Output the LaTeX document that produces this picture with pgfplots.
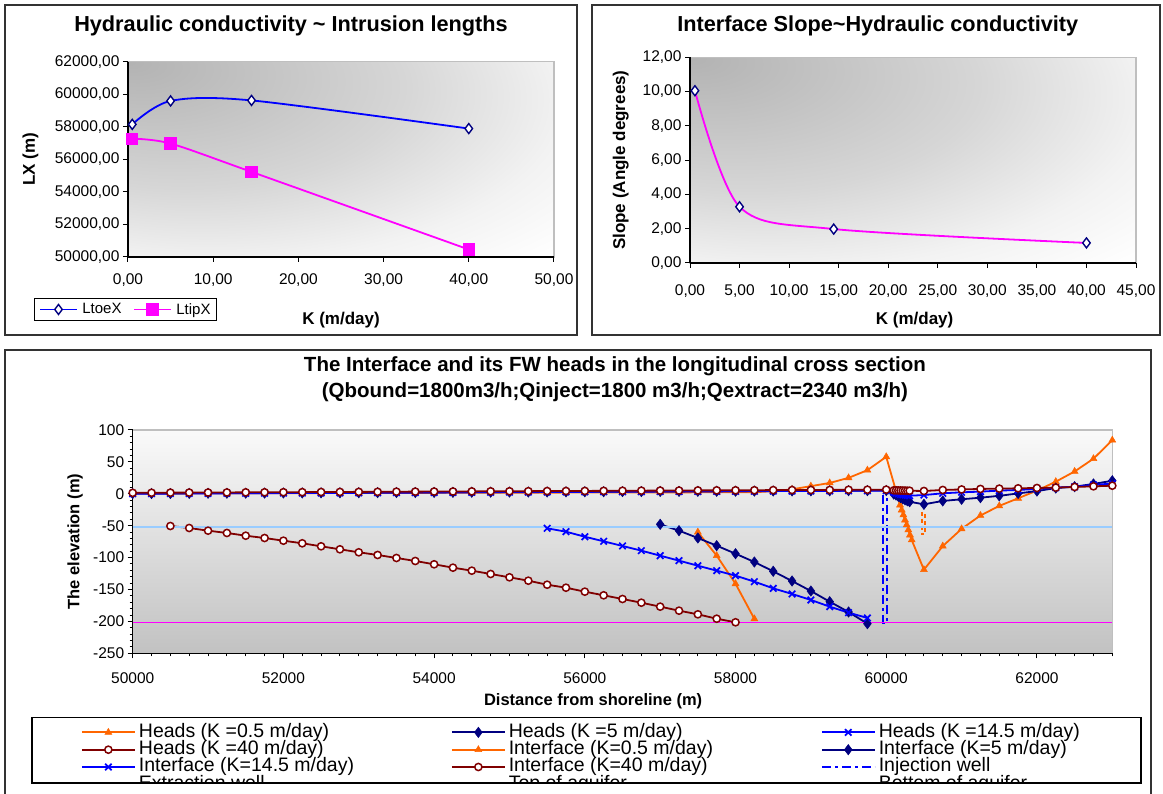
\documentclass[border=0pt]{standalone}
\usepackage{fontspec}
\setmainfont{Liberation Sans}
\usepackage{pgfplots}
\pgfplotsset{compat=1.18}

\definecolor{xlorange}{HTML}{FF6600}
\definecolor{xlnavy}{HTML}{000080}
\definecolor{xlblue}{HTML}{0000FF}
\definecolor{xlred}{HTML}{800000}
\definecolor{xlsky}{HTML}{99CCFF}
\definecolor{xlpink}{HTML}{FF00FF}

% gray corner fill of the two upper plot areas
\pgfdeclareradialshading{xlcorner}{\pgfpoint{-25bp}{25bp}}{color(0bp)=(black!30); color(26bp)=(black!16); color(41bp)=(black!5); color(52bp)=(white); color(100bp)=(white)}

\pgfplotsset{
  xlbase/.style={
    scale only axis,
    axis x line*=bottom, axis y line*=left,
    axis line style={black, line width=1.2pt},
    tick align=outside,
    major tick length=5pt, minor tick length=3pt,
    tick style={black, line width=1pt},
    scaled x ticks=false, scaled y ticks=false,
    ticklabel style={font=\fontsize{15.5}{18}\selectfont},
    xticklabel style={yshift=-8pt},
    label style={font=\bfseries\fontsize{17}{20}\selectfont},
    title style={font=\bfseries\fontsize{21.7}{25}\selectfont, anchor=center},
  },
  % excel series styles
  kA/.style={color=xlorange, line width=1.8pt, mark=triangle*, mark size=4pt, mark options={fill=xlorange, draw=xlorange, line width=0.5pt}},
  kB/.style={color=xlnavy, line width=1.8pt, mark=diamond*, mark size=5.2pt, mark options={fill=xlnavy, line width=0.5pt}},
  kC/.style={color=xlblue, line width=1.8pt, mark=x, mark size=4.6pt, mark options={line width=1.7pt}},
  kD/.style={color=xlred, line width=1.8pt, mark=*, mark size=3.6pt, mark options={fill=white, draw=xlred, line width=1.5pt}},
}

\begin{document}
\begin{tikzpicture}[x=1pt, y=1pt]
\useasboundingbox (0,0) rectangle (1163,794);
\begin{scope}
\clip (0,10.5) rectangle (1163,794);

% ---- top left: intrusion lengths
\begin{axis}[xlbase,
    at={(128pt,537pt)}, anchor=south west, width=426pt, height=195.3pt,
    axis background/.style={shade, shading=xlcorner, draw=black!25, line width=1.5pt},
    xmin=0, xmax=50, ymin=50000, ymax=62000,
    xtick={0,10,...,50}, ytick={50000,52000,...,62000},
    xticklabel={\pgfmathprintnumber[fixed,fixed zerofill,precision=2,use comma,1000 sep={},assume math mode=true]{\tick}},
    yticklabel={\pgfmathprintnumber[fixed,fixed zerofill,precision=2,use comma,1000 sep={},assume math mode=true]{\tick}},
    title={Hydraulic conductivity \textasciitilde{} Intrusion lengths},
    title style={at={(axis description cs:0.3826,1.152)}},
    xlabel={K (m/day)}, ylabel={LX (m)},
    xlabel style={at={(axis description cs:0.5,-0.3226)}, anchor=center},
    ylabel style={at={(axis description cs:-0.229,0.5)}, anchor=center},
    legend columns=2,
    legend image code/.code={\draw[mark repeat=2,mark phase=2,#1] plot coordinates {(0pt,0pt) (18pt,0pt) (36pt,0pt)};},
    legend style={at={(axis description cs:-0.2207,-0.2084)}, anchor=north west, draw=black, line width=1.2pt,
      font=\fontsize{15}{17}\selectfont, inner xsep=5pt, inner ysep=4pt,
      nodes={inner sep=1pt},
      /tikz/every odd column/.append style={column sep=4pt},
      /tikz/every even column/.append style={column sep=11pt}},
  ]
\addplot[smooth, xlblue, line width=1.8pt, mark=diamond*, mark size=5pt, mark options={fill=white, draw=xlnavy, line width=1.4pt}]
  coordinates {(0.5,58150) (5,59590) (14.5,59620) (40,57890)};
\addlegendentry{LtoeX}
\addplot[smooth, xlpink, line width=1.8pt, mark=square*, mark size=5.2pt, mark options={fill=xlpink, draw=xlpink}]
  coordinates {(0.5,57270) (5,56970) (14.5,55230) (40,50460)};
\addlegendentry{LtipX}
\end{axis}

% ---- top right: interface slope
\begin{axis}[xlbase,
    at={(690pt,531pt)}, anchor=south west, width=446pt, height=205.7pt,
    axis background/.style={shade, shading=xlcorner, draw=black!25, line width=1.5pt},
    xmin=0, xmax=45, ymin=0, ymax=12,
    xtick={0,5,...,45}, ytick={0,2,...,12},
    xticklabel={\pgfmathprintnumber[fixed,fixed zerofill,precision=2,use comma,assume math mode=true]{\tick}},
    yticklabel={\pgfmathprintnumber[fixed,fixed zerofill,precision=2,use comma,assume math mode=true]{\tick}},
    xticklabel style={yshift=-5pt},
    title={Interface Slope\textasciitilde Hydraulic conductivity},
    title style={at={(axis description cs:0.421,1.123)}},
    xlabel={K (m/day)}, ylabel={Slope (Angle degrees)},
    xlabel style={at={(axis description cs:0.5036,-0.277)}, anchor=center},
    ylabel style={at={(axis description cs:-0.155,0.5)}, anchor=center},
  ]
\addplot[smooth, xlpink, line width=1.8pt, mark=diamond*, mark size=5pt, mark options={fill=white, draw=xlnavy, line width=1.4pt}]
  coordinates {(0.5,10.05) (5,3.28) (14.5,1.98) (40,1.17)};
\end{axis}

% ---- bottom: cross section
\begin{axis}[xlbase,
    at={(132.7pt,140.7pt)}, anchor=south west, width=979.6pt, height=223.3pt,
    axis background/.style={shade, top color=black!2, bottom color=black!24, draw=black!25, line width=1.5pt},
    xmin=50000, xmax=63000, ymin=-250, ymax=100,
    xtick={50000,52000,...,62000}, minor xtick={50000,50250,...,63000},
    ytick={-250,-200,...,100}, minor ytick={-250,-240,...,100},
    xticklabel={\pgfmathprintnumber[fixed,precision=0,1000 sep={},assume math mode=true]{\tick}},
    yticklabel={\pgfmathprintnumber[fixed,precision=0,assume math mode=true]{\tick}},
    xticklabel style={yshift=-3pt},
    label style={font=\bfseries\fontsize{16.5}{20}\selectfont},
    title={The Interface and its FW heads in the longitudinal cross section\\(Qbound=1800m3/h;Qinject=1800 m3/h;Qextract=2340 m3/h)},
    title style={at={(axis description cs:0.4923,1.2015)}, align=center, font=\bfseries\fontsize{20.5}{26}\selectfont},
    xlabel={Distance from shoreline (m)}, ylabel={The elevation (m)},
    xlabel style={at={(axis description cs:0.47,-0.2136)}, anchor=center},
    ylabel style={at={(axis description cs:-0.0589,0.5)}, anchor=center},
    legend columns=3,
    legend image code/.code={\path (-42pt,0pt) (0pt,0pt); \draw[mark repeat=2,mark phase=2,#1] plot coordinates {(0pt,0pt) (26.5pt,0pt) (53pt,0pt)};},
    legend style={at={(axis description cs:-0.1038,-0.2853)}, anchor=north west, draw=black, line width=1.5pt,
      font=\fontsize{19.5}{21}\selectfont, inner xsep=7pt, inner ysep=6pt, row sep=0pt,
      nodes={inner sep=0pt, text height=13.6pt, text depth=3.7pt},
      /tikz/every odd column/.append style={column sep=3pt}},
  ]
% heads
\addplot[kA] coordinates {
  (50000,0.5) (50250,0.6) (50500,0.6) (50750,0.7) (51000,0.7) (51250,0.8) (51500,0.9) (51750,0.9)
  (52000,1.0) (52250,1.0) (52500,1.1) (52750,1.2) (53000,1.2) (53250,1.3) (53500,1.3) (53750,1.4)
  (54000,1.5) (54250,1.5) (54500,1.6) (54750,1.6) (55000,1.7) (55250,1.8) (55500,1.8) (55750,1.9)
  (56000,1.9) (56250,2.0) (56500,2.1) (56750,2.1) (57000,2.2) (57250,2.2) (57500,2.3) (57750,2.4)
  (58000,2.4) (58250,2.5) (58500,4) (58750,7) (59000,12) (59250,17) (59500,25) (59750,37) (60000,58)
  (60183,-17.6) (60205,-25.4) (60227,-33.2) (60249,-41.1) (60271,-48.9) (60293,-56.7) (60315,-64.6) (60338,-72.4)
  (60500,-119) (60750,-82) (61000,-55) (61250,-34) (61500,-19) (61750,-7) (62000,5) (62250,19)
  (62500,35) (62750,55) (63000,84)};
\addlegendentry{\makebox[270pt][l]{Heads (K =0.5 m/day)}}
\addplot[kB] coordinates {
  (50000,0.3) (50250,0.4) (50500,0.5) (50750,0.7) (51000,0.8) (51250,0.9) (51500,1.0) (51750,1.1)
  (52000,1.3) (52250,1.4) (52500,1.5) (52750,1.6) (53000,1.7) (53250,1.9) (53500,2.0) (53750,2.1)
  (54000,2.2) (54250,2.3) (54500,2.5) (54750,2.6) (55000,2.7) (55250,2.8) (55500,2.9) (55750,3.1)
  (56000,3.2) (56250,3.3) (56500,3.4) (56750,3.5) (57000,3.7) (57250,3.8) (57500,3.9) (57750,4.0)
  (58000,4.1) (58250,4.3) (58500,4.4) (58750,4.5) (59000,4.6) (59250,4.7) (59500,4.9) (59750,5.0) (60000,5.1)
  (60100,-0.5) (60130,-2) (60160,-4) (60190,-6) (60220,-8) (60250,-9.5) (60280,-11) (60310,-12.5)
  (60500,-16.5) (60750,-11.2) (61000,-8.6) (61250,-6.1) (61500,-3.2) (61750,0.6) (62000,4.3) (62250,9)
  (62500,11.2) (62750,15.4) (63000,20.5)};
\addlegendentry{\makebox[270pt][l]{Heads (K =5 m/day)}}
\addplot[kC] coordinates {
  (50000,0.1) (50250,0.2) (50500,0.3) (50750,0.5) (51000,0.6) (51250,0.7) (51500,0.8) (51750,0.9)
  (52000,1.1) (52250,1.2) (52500,1.3) (52750,1.4) (53000,1.5) (53250,1.7) (53500,1.8) (53750,1.9)
  (54000,2.0) (54250,2.1) (54500,2.3) (54750,2.4) (55000,2.5) (55250,2.6) (55500,2.7) (55750,2.9)
  (56000,3.0) (56250,3.1) (56500,3.2) (56750,3.3) (57000,3.5) (57250,3.6) (57500,3.7) (57750,3.8)
  (58000,3.9) (58250,4.1) (58500,4.2) (58750,4.3) (59000,4.4) (59250,4.5) (59500,4.7) (59750,4.8) (60000,4.9)
  (60100,2) (60130,1) (60160,0) (60190,-1) (60220,-1.5) (60250,-2) (60280,-2.5) (60310,-3)
  (60500,-2) (60750,0.8) (61000,2.3) (61250,3.4) (61500,5) (61750,6) (62000,7.6) (62250,9.7)
  (62500,11) (62750,14) (63000,16)};
\addlegendentry{\makebox[255pt][l]{Heads (K =14.5 m/day)}}
\addplot[kD] coordinates {
  (50000,1.5) (50250,1.6) (50500,1.8) (50750,1.9) (51000,2.0) (51250,2.1) (51500,2.3) (51750,2.4)
  (52000,2.5) (52250,2.6) (52500,2.8) (52750,2.9) (53000,3.0) (53250,3.1) (53500,3.3) (53750,3.4)
  (54000,3.5) (54250,3.6) (54500,3.8) (54750,3.9) (55000,4.0) (55250,4.1) (55500,4.3) (55750,4.4)
  (56000,4.5) (56250,4.6) (56500,4.8) (56750,4.9) (57000,5.0) (57250,5.1) (57500,5.3) (57750,5.4)
  (58000,5.5) (58250,5.6) (58500,5.8) (58750,5.9) (59000,6.0) (59250,6.1) (59500,6.3) (59750,6.4) (60000,6.5)
  (60100,5.5) (60130,5.4) (60160,5.3) (60190,5.2) (60220,5.1) (60250,5) (60280,4.9) (60310,4.8)
  (60500,4.4) (60750,6) (61000,6.8) (61250,7.6) (61500,8.1) (61750,8.6) (62000,9.1) (62250,9.7)
  (62500,10.7) (62750,11.7) (63000,12.7)};
\addlegendentry{\makebox[270pt][l]{Heads (K =40 m/day)}}
% interfaces
\addplot[kA] coordinates {(57500,-60) (57750,-97) (58000,-141) (58250,-196)};
\addlegendentry{\makebox[270pt][l]{Interface (K=0.5 m/day)}}
\addplot[kB] coordinates {
  (57000,-47.9) (57250,-57.8) (57500,-69.3) (57750,-81.3) (58000,-93.9) (58250,-106.9)
  (58500,-121.5) (58750,-136.7) (59000,-152.4) (59250,-169.1) (59500,-185.3) (59750,-203.6)};
\addlegendentry{\makebox[255pt][l]{Interface (K=5 m/day)}}
\addplot[kC] coordinates {
  (55500,-54.1) (55750,-59.4) (56000,-67.3) (56250,-74.5) (56500,-81.8) (56750,-89.1)
  (57000,-97.0) (57250,-104.8) (57500,-112.7) (57750,-120.5) (58000,-128.3) (58250,-137.7)
  (58500,-148.2) (58750,-157.0) (59000,-166.4) (59250,-176.9) (59500,-186.3) (59750,-194.6)};
\addlegendentry{\makebox[270pt][l]{Interface (K=14.5 m/day)}}
\addplot[kD] coordinates {
  (50500,-50.5) (50750,-53.6) (51000,-57.8) (51250,-61.4) (51500,-65.7) (51750,-69.3)
  (52000,-73.5) (52250,-77.6) (52500,-82.3) (52750,-87.0) (53000,-91.7) (53250,-95.9)
  (53500,-100.6) (53750,-105.3) (54000,-110.5) (54250,-115.8) (54500,-120.5) (54750,-125.7)
  (55000,-130.9) (55250,-136.2) (55500,-142.5) (55750,-147.2) (56000,-153.4) (56250,-159.1)
  (56500,-164.9) (56750,-170.7) (57000,-176.9) (57250,-183.2) (57500,-188.9) (57750,-195.8) (58000,-201.4)};
\addlegendentry{\makebox[270pt][l]{Interface (K=40 m/day)}}
% wells and aquifer limits
\addplot[xlblue, line width=2pt, dash pattern=on 9pt off 4pt on 3pt off 4pt] coordinates {(59960,-2) (59960,-202) (60010,-202) (60010,-2)};
\addlegendentry{\makebox[255pt][l]{Injection well}}
\addplot[xlorange, line width=2.2pt, dash pattern=on 4pt off 3pt] coordinates {(60470,-28) (60470,-63) (60515,-63) (60515,-28)};
\addlegendentry{\makebox[270pt][l]{Extraction well}}
\addplot[xlsky, line width=1.6pt] coordinates {(50000,-52) (63000,-52)};
\addlegendentry{\makebox[270pt][l]{Top of aquifer}}
\addplot[xlpink, line width=1.6pt] coordinates {(50000,-202) (63000,-202)};
\addlegendentry{\makebox[255pt][l]{Bottom of aquifer}}
\end{axis}
\end{scope}

% chart area frames
\draw[line width=1.5pt, black!80] (5,459) rectangle (577,789);
\draw[line width=1.5pt, black!80] (592,459) rectangle (1160,789);
\draw[line width=1.5pt, black!80] (5,-5) -- (5,444) -- (1151,444) -- (1151,-5);
\draw[line width=1.5pt] (31,11) -- (1140,11);
\end{tikzpicture}
\end{document}
